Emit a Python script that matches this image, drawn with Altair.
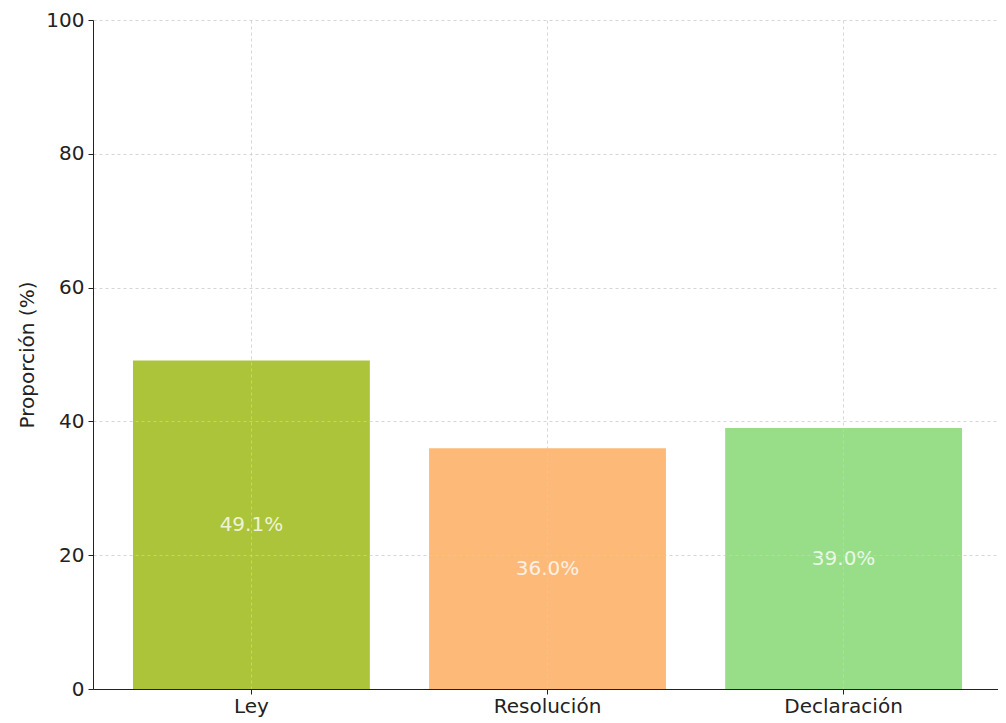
import altair as alt
import pandas as pd

categories = ["Ley", "Resolución", "Declaración"]
values = [49.1, 36.0, 39.0]
colors = ["#acc43a", "#fdb978", "#98de89"]

df = pd.DataFrame({"categoria": categories, "valor": values})

FONT = "DejaVu Sans"

x_enc = alt.X(
    "categoria:N",
    sort=categories,
    scale=alt.Scale(paddingInner=0.2, paddingOuter=0.135, range=[0, 909]),
    axis=alt.Axis(
        title=None, labelAngle=0, bandPosition=0.5, grid=True,
        gridDash=[3, 3], gridColor="#cccccc", gridWidth=0.8,
        domainColor="#222222", tickColor="#222222", tickSize=5,
        labelFontSize=20, labelFont=FONT, labelColor="#222222",
        labelPadding=2, zindex=1,
    ),
)

bars = alt.Chart(df).mark_bar().encode(
    x=x_enc,
    y=alt.Y(
        "valor:Q",
        scale=alt.Scale(domain=[0, 100], nice=False),
        axis=alt.Axis(
            title="Proporción (%)", values=[0, 20, 40, 60, 80, 100],
            grid=True, gridDash=[3, 3], gridColor="#cccccc", gridWidth=0.8,
            domainColor="#222222", tickColor="#222222", tickSize=5,
            labelFontSize=20, labelFont=FONT, labelColor="#222222",
            labelPadding=4, titleFontSize=20, titleFont=FONT,
            titleFontWeight="normal", titleColor="#222222", titlePadding=8,
            zindex=1,
        ),
    ),
    color=alt.Color(
        "categoria:N", sort=categories,
        scale=alt.Scale(domain=categories, range=colors), legend=None,
    ),
)

labels = alt.Chart(df).transform_calculate(
    mid="datum.valor / 2",
    label="format(datum.valor, '.1f') + '%'",
).mark_text(
    font=FONT, fontSize=20, color="white", opacity=0.8, baseline="middle",
    align="center",
).encode(
    x=alt.X("categoria:N", sort=categories),
    y=alt.Y("mid:Q"),
    text="label:N",
)

chart = alt.layer(bars, labels).properties(
    width=905, height=669,
    autosize=alt.AutoSizeParams(type="none"),
    padding={"left": 85, "top": 12, "right": 0, "bottom": 30},
).configure_view(strokeWidth=0)

chart.save("out.html", embed_options={"renderer": "svg", "actions": False})
